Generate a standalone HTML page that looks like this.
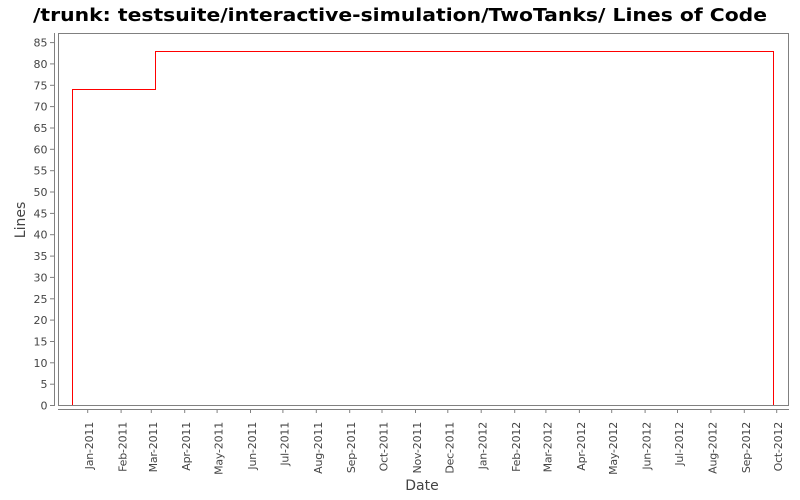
<!DOCTYPE html>
<html>
<head>
<meta charset="utf-8">
<style>
html,body{margin:0;padding:0;background:#fff;}
svg{display:block;}
text{font-family:"DejaVu Sans","Liberation Sans",sans-serif;}
</style>
</head>
<body>
<svg width="800" height="500" viewBox="0 0 800 500" xmlns="http://www.w3.org/2000/svg">
<rect x="0" y="0" width="800" height="500" fill="#fff"/>
<text x="400" y="21" text-anchor="middle" font-size="18" font-weight="bold" fill="#000" textLength="734" lengthAdjust="spacingAndGlyphs">/trunk: testsuite/interactive-simulation/TwoTanks/ Lines of Code</text>

<!-- plot border -->
<rect x="58.5" y="33.5" width="730" height="372" fill="#fff" stroke="#808080" stroke-width="1"/>

<!-- y axis -->
<line x1="54.5" y1="33" x2="54.5" y2="406" stroke="#808080" stroke-width="1"/>
<g stroke="#808080" stroke-width="1">
<line x1="50" y1="405.5" x2="54" y2="405.5"/>
<line x1="50" y1="384.2" x2="54" y2="384.2"/>
<line x1="50" y1="362.8" x2="54" y2="362.8"/>
<line x1="50" y1="341.5" x2="54" y2="341.5"/>
<line x1="50" y1="320.1" x2="54" y2="320.1"/>
<line x1="50" y1="298.8" x2="54" y2="298.8"/>
<line x1="50" y1="277.4" x2="54" y2="277.4"/>
<line x1="50" y1="256.1" x2="54" y2="256.1"/>
<line x1="50" y1="234.7" x2="54" y2="234.7"/>
<line x1="50" y1="213.4" x2="54" y2="213.4"/>
<line x1="50" y1="192.0" x2="54" y2="192.0"/>
<line x1="50" y1="170.7" x2="54" y2="170.7"/>
<line x1="50" y1="149.3" x2="54" y2="149.3"/>
<line x1="50" y1="128.0" x2="54" y2="128.0"/>
<line x1="50" y1="106.6" x2="54" y2="106.6"/>
<line x1="50" y1="85.3" x2="54" y2="85.3"/>
<line x1="50" y1="63.9" x2="54" y2="63.9"/>
<line x1="50" y1="42.6" x2="54" y2="42.6"/>
</g>
<g font-size="11" fill="#444" text-anchor="end">
<text x="47.5" y="409.5">0</text>
<text x="47.5" y="388.2">5</text>
<text x="47.5" y="366.8">10</text>
<text x="47.5" y="345.5">15</text>
<text x="47.5" y="324.1">20</text>
<text x="47.5" y="302.8">25</text>
<text x="47.5" y="281.4">30</text>
<text x="47.5" y="260.1">35</text>
<text x="47.5" y="238.7">40</text>
<text x="47.5" y="217.4">45</text>
<text x="47.5" y="196">50</text>
<text x="47.5" y="174.7">55</text>
<text x="47.5" y="153.3">60</text>
<text x="47.5" y="132">65</text>
<text x="47.5" y="110.6">70</text>
<text x="47.5" y="89.3">75</text>
<text x="47.5" y="67.9">80</text>
<text x="47.5" y="46.6">85</text>
</g>
<text transform="translate(25,220) rotate(-90)" text-anchor="middle" font-size="14" fill="#444">Lines</text>

<!-- x axis -->
<line x1="58" y1="409.5" x2="789" y2="409.5" stroke="#808080" stroke-width="1"/>
<g stroke="#808080" stroke-width="1">
<line x1="87.7" y1="409" x2="87.7" y2="413"/>
<line x1="121.1" y1="409" x2="121.1" y2="413"/>
<line x1="151.3" y1="409" x2="151.3" y2="413"/>
<line x1="184.7" y1="409" x2="184.7" y2="413"/>
<line x1="217.1" y1="409" x2="217.1" y2="413"/>
<line x1="250.5" y1="409" x2="250.5" y2="413"/>
<line x1="282.9" y1="409" x2="282.9" y2="413"/>
<line x1="316.3" y1="409" x2="316.3" y2="413"/>
<line x1="349.7" y1="409" x2="349.7" y2="413"/>
<line x1="382.0" y1="409" x2="382.0" y2="413"/>
<line x1="415.5" y1="409" x2="415.5" y2="413"/>
<line x1="447.8" y1="409" x2="447.8" y2="413"/>
<line x1="481.2" y1="409" x2="481.2" y2="413"/>
<line x1="514.7" y1="409" x2="514.7" y2="413"/>
<line x1="545.9" y1="409" x2="545.9" y2="413"/>
<line x1="579.4" y1="409" x2="579.4" y2="413"/>
<line x1="611.7" y1="409" x2="611.7" y2="413"/>
<line x1="645.1" y1="409" x2="645.1" y2="413"/>
<line x1="677.5" y1="409" x2="677.5" y2="413"/>
<line x1="710.9" y1="409" x2="710.9" y2="413"/>
<line x1="744.3" y1="409" x2="744.3" y2="413"/>
<line x1="776.7" y1="409" x2="776.7" y2="413"/>
</g>
<g font-size="11" fill="#444" text-anchor="end" letter-spacing="-0.2">
<text transform="translate(93.2,422) rotate(-90)">Jan-2011</text>
<text transform="translate(126.6,422) rotate(-90)">Feb-2011</text>
<text transform="translate(156.8,422) rotate(-90)">Mar-2011</text>
<text transform="translate(190.2,422) rotate(-90)">Apr-2011</text>
<text transform="translate(222.6,422) rotate(-90)">May-2011</text>
<text transform="translate(256.0,422) rotate(-90)">Jun-2011</text>
<text transform="translate(288.4,422) rotate(-90)">Jul-2011</text>
<text transform="translate(321.8,422) rotate(-90)">Aug-2011</text>
<text transform="translate(355.2,422) rotate(-90)">Sep-2011</text>
<text transform="translate(387.5,422) rotate(-90)">Oct-2011</text>
<text transform="translate(421.0,422) rotate(-90)">Nov-2011</text>
<text transform="translate(453.3,422) rotate(-90)">Dec-2011</text>
<text transform="translate(486.7,422) rotate(-90)">Jan-2012</text>
<text transform="translate(520.2,422) rotate(-90)">Feb-2012</text>
<text transform="translate(551.4,422) rotate(-90)">Mar-2012</text>
<text transform="translate(584.9,422) rotate(-90)">Apr-2012</text>
<text transform="translate(617.2,422) rotate(-90)">May-2012</text>
<text transform="translate(650.6,422) rotate(-90)">Jun-2012</text>
<text transform="translate(683.0,422) rotate(-90)">Jul-2012</text>
<text transform="translate(716.4,422) rotate(-90)">Aug-2012</text>
<text transform="translate(749.8,422) rotate(-90)">Sep-2012</text>
<text transform="translate(782.2,422) rotate(-90)">Oct-2012</text>
</g>
<text x="422" y="490" text-anchor="middle" font-size="14" fill="#444">Date</text>

<!-- data series -->
<polyline points="72.5,405 72.5,89.5 155.5,89.5 155.5,51.5 773.5,51.5 773.5,405" fill="none" stroke="#ff0000" stroke-width="1"/>
</svg>
</body>
</html>
